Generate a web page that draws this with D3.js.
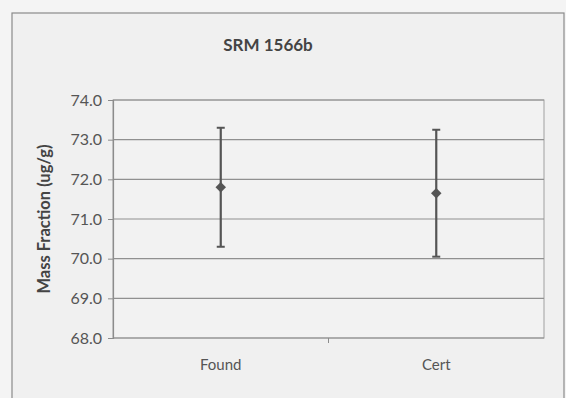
<!DOCTYPE html>
<html>
<head>
<meta charset="utf-8">
<script src="https://cdn.jsdelivr.net/npm/d3@7"></script>
<style>
  body { margin: 0; background: #f4f4f4; }
  svg { display: block; }
  text { font-family: Lato, "Open Sans", sans-serif; fill: #444; }
</style>
</head>
<body>
<svg id="chart"></svg>
<script>
// values
const categories = ["Found", "Cert"];
const means = [71.8, 71.65];
const lows = [70.3, 70.05];
const highs = [73.3, 73.25];
const yTicks = [68, 69, 70, 71, 72, 73, 74];

const width = 566, height = 398;
const margin = { top: 100, right: 22, bottom: 60, left: 113 };
const innerW = width - margin.left - margin.right;
const innerH = height - margin.top - margin.bottom;

const svg = d3.select("#chart")
    .attr("width", width)
    .attr("height", height);

// chart frame
svg.append("rect")
    .attr("x", 12).attr("y", 13)
    .attr("width", 552).attr("height", 400)
    .attr("fill", "#f0f0f0")
    .attr("stroke", "#8a8a8a")
    .attr("stroke-width", 1.2);

svg.append("text")
    .attr("x", 268).attr("y", 51)
    .attr("text-anchor", "middle")
    .style("font-size", "17px")
    .style("font-weight", "bold")
    .text("SRM 1566b");

const chart = svg.append("g")
    .attr("transform", `translate(${margin.left},${margin.top})`);

const x = d3.scaleBand().domain(categories).range([0, innerW]);
const y = d3.scaleLinear().domain([68, 74]).range([innerH, 0]);

// plot area
chart.append("rect")
    .attr("width", innerW).attr("height", innerH)
    .attr("fill", "#f2f2f2")
    .attr("stroke", "#a0a0a0");

// gridlines
chart.selectAll(".grid").data(yTicks).join("line")
    .attr("class", "grid")
    .attr("x1", 0).attr("x2", innerW)
    .attr("y1", d => y(d)).attr("y2", d => y(d))
    .attr("stroke", "#909090")
    .attr("stroke-width", 1.2);

// y axis
const yAxis = d3.axisLeft(y).tickValues(yTicks).tickFormat(d3.format(".1f")).tickSize(5).tickPadding(6);
const yG = chart.append("g").call(yAxis);
yG.select(".domain").attr("stroke", "#8c8c8c").attr("stroke-width", 1.2);
yG.selectAll(".tick line").attr("stroke", "#8c8c8c");
yG.selectAll(".tick text").style("font-size", "16px").style("fill", "#555");

// x axis
const xAxis = d3.axisBottom(x).tickSize(0).tickPadding(21);
const xG = chart.append("g").attr("transform", `translate(0,${innerH})`).call(xAxis);
xG.select(".domain").remove();
xG.selectAll(".tick text").style("font-size", "15px").style("fill", "#555");
// category separator tick
chart.append("line")
    .attr("x1", x.step()).attr("x2", x.step())
    .attr("y1", innerH).attr("y2", innerH + 5)
    .attr("stroke", "#8c8c8c");

// y label
svg.append("text")
    .attr("transform", `translate(50,${margin.top + innerH / 2}) rotate(-90)`)
    .attr("text-anchor", "middle")
    .style("font-size", "16.5px")
    .style("font-weight", "bold")
    .text("Mass Fraction (ug/g)");

// error bars
const cx = d => x(d) + x.bandwidth() / 2;
const pts = chart.selectAll(".pt").data(categories).join("g").attr("class", "pt");
pts.append("line")
    .attr("x1", d => cx(d)).attr("x2", d => cx(d))
    .attr("y1", (d, i) => y(lows[i])).attr("y2", (d, i) => y(highs[i]))
    .attr("stroke", "#555").attr("stroke-width", 2.2);
[lows, highs].forEach(arr => {
  pts.append("line")
      .attr("x1", d => cx(d) - 4).attr("x2", d => cx(d) + 4)
      .attr("y1", (d, i) => y(arr[i])).attr("y2", (d, i) => y(arr[i]))
      .attr("stroke", "#555").attr("stroke-width", 2);
});
pts.append("path")
    .attr("d", d3.symbol(d3.symbolDiamond2, 70)())
    .attr("transform", (d, i) => `translate(${cx(d)},${y(means[i])})`)
    .attr("fill", "#555");
</script>
</body>
</html>
